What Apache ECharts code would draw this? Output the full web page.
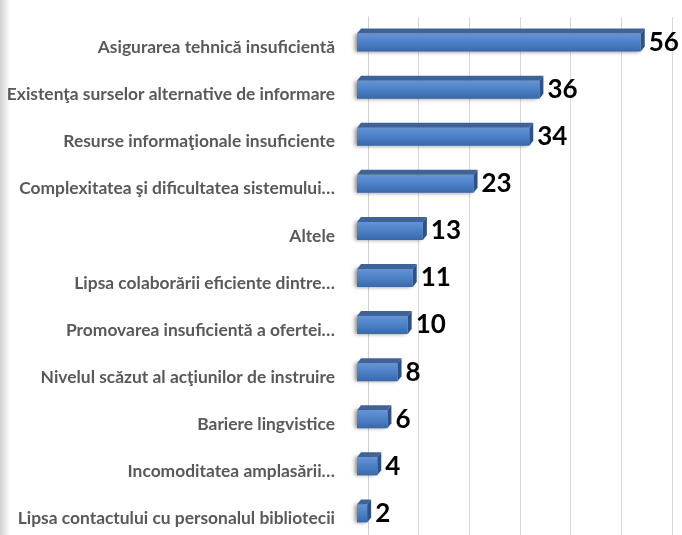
<!DOCTYPE html>
<html>
<head>
<meta charset="utf-8">
<script src="https://cdn.jsdelivr.net/npm/echarts@6/dist/echarts.min.js"></script>
<style>
  html, body { margin: 0; padding: 0; background: #fff; }
  #main { width: 682px; height: 535px; }
</style>
</head>
<body>
<div id="main"></div>
<script>
// categories listed from top to bottom
const categories = [
  'Asigurarea tehnică insuficientă',
  'Existenţa surselor alternative de informare',
  'Resurse informaţionale insuficiente',
  'Complexitatea şi dificultatea sistemului…',
  'Altele',
  'Lipsa colaborării eficiente dintre…',
  'Promovarea insuficientă a ofertei…',
  'Nivelul scăzut al acţiunilor de instruire',
  'Bariere lingvistice',
  'Incomoditatea amplasării…',
  'Lipsa contactului cu personalul bibliotecii'
]
const values = [56, 36, 34, 23, 13, 11, 10, 8, 6, 4, 2]

const chart = echarts.init(document.getElementById('main'))

// 3d-looking bar: front face shifted left of the back wall, top + side faces
function renderBar (params, api) {
  const idx = api.value(0)
  const val = api.value(1)
  const start = api.coord([0, idx])
  const end = api.coord([val, idx])
  const shift = 11
  const d = 4
  const h = 5
  const cy = end[1]
  const x0 = start[0] - shift
  const x1 = end[0] - shift
  const fy0 = cy - 7
  const fy1 = cy + 11
  return {
    type: 'group',
    children: [
      {
        type: 'rect',
        shape: { x: x0, y: fy0, width: x1 - x0, height: fy1 - fy0 },
        style: {
          fill: new echarts.graphic.LinearGradient(0, 0, 0, 1, [
            { offset: 0, color: '#6394d6' },
            { offset: 0.5, color: '#4c80c6' },
            { offset: 1, color: '#3a68a8' }
          ]),
          shadowColor: 'rgba(0,0,0,0.45)',
          shadowBlur: 4,
          shadowOffsetX: -2
        }
      },
      {
        type: 'polygon',
        shape: { points: [[x0, fy0], [x1, fy0], [x1 + d, fy0 - h], [x0 + d, fy0 - h]] },
        style: { fill: '#3f6398' }
      },
      {
        type: 'polygon',
        shape: { points: [[x1, fy0], [x1 + d, fy0 - h], [x1 + d, fy1 - h], [x1, fy1]] },
        style: { fill: '#2f5185' }
      },
      {
        type: 'text',
        style: {
          x: x1 + d + 4,
          y: cy + 2,
          text: String(val),
          fill: '#000',
          font: 'bold 26px Lato',
          align: 'left',
          verticalAlign: 'middle'
        }
      }
    ]
  }
}

const option = {
  backgroundColor: '#fff',
  animation: false,
  grid: { left: 368, right: 10, top: 17, bottom: -4, containLabel: false },
  xAxis: {
    type: 'value',
    min: 0,
    max: 60,
    interval: 10,
    axisLabel: { show: false },
    axisLine: { show: false },
    axisTick: { show: false },
    splitLine: { show: true, lineStyle: { color: '#d9d9d9', width: 1 } }
  },
  yAxis: {
    type: 'category',
    data: categories,
    inverse: true,
    offset: 16,
    axisLine: { show: true, lineStyle: { color: '#d0d0d0', width: 1 } },
    axisTick: { show: false },
    axisLabel: {
      margin: 17,
      color: '#595959',
      fontFamily: 'Lato',
      fontWeight: 'bold',
      fontSize: 17.4,
      verticalAlign: 'top',
      lineHeight: 14
    }
  },
  graphic: [
    {
      type: 'rect',
      left: 0,
      top: 0,
      shape: { width: 10, height: 535 },
      style: {
        fill: new echarts.graphic.LinearGradient(0, 0, 1, 0, [
          { offset: 0, color: 'rgba(0,0,0,0.18)' },
          { offset: 1, color: 'rgba(0,0,0,0)' }
        ])
      }
    }
  ],
  series: [
    {
      type: 'custom',
      renderItem: renderBar,
      encode: { x: 1, y: 0 },
      data: values.map((v, i) => [i, v])
    }
  ]
}

chart.setOption(option)
</script>
</body>
</html>
